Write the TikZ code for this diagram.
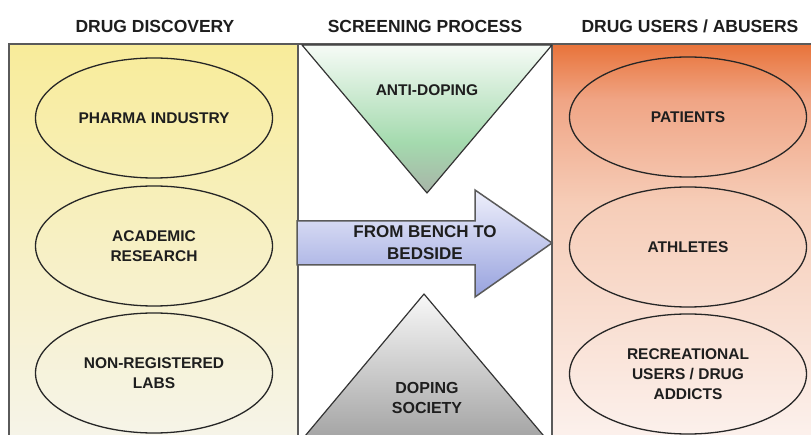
\documentclass[tikz,border=0pt]{standalone}
\usepackage{fontspec}
\setmainfont{Liberation Sans}
\usetikzlibrary{shapes.geometric}
\definecolor{framec}{HTML}{5A5A5A}
\definecolor{txt}{HTML}{1E1E1E}
\definecolor{yelTop}{HTML}{F8EC9A}
\definecolor{yelMid}{HTML}{F7F0C4}
\definecolor{yelBot}{HTML}{F6F4EA}
\definecolor{orTop}{HTML}{E8733A}
\definecolor{orA}{HTML}{F0A585}
\definecolor{orMid}{HTML}{F6CDB8}
\definecolor{orBot}{HTML}{FCF2EE}
\definecolor{grTop}{HTML}{F6FBF6}
\definecolor{grMid}{HTML}{A4DAAE}
\definecolor{grBot}{HTML}{A8B4A8}
\definecolor{gyTop}{HTML}{F8F8F8}
\definecolor{gyBot}{HTML}{A2A2A2}
\definecolor{blTop}{HTML}{EEEFFB}
\definecolor{blBot}{HTML}{97A2DE}
% right panel: bbox 44..445 mapped to 75bp..25bp
\pgfdeclareverticalshading{rightpanel}{100bp}{color(0bp)=(orBot); color(25bp)=(orBot); color(55bp)=(orMid); color(68bp)=(orA); color(75bp)=(orTop); color(100bp)=(orTop)}
\pgfdeclareverticalshading{leftpanel}{100bp}{color(0bp)=(yelBot); color(25bp)=(yelBot); color(50bp)=(yelMid); color(75bp)=(yelTop); color(100bp)=(yelTop)}
\pgfdeclareverticalshading{antidop}{100bp}{color(0bp)=(grBot); color(25bp)=(grBot); color(42bp)=(grMid); color(75bp)=(grTop); color(100bp)=(grTop)}
\tikzset{
  panel/.style={draw=framec, line width=1.5pt},
  heading/.style={font=\fontsize{17.5}{20}\selectfont\bfseries, text=txt},
  label/.style={font=\fontsize{15.5}{20}\selectfont\bfseries, text=txt, align=center},
  bigl/.style={font=\fontsize{17}{22}\selectfont\bfseries, text=txt, align=center},
  oval/.style={ellipse, draw=black!85, line width=1.3pt, minimum width=237pt, minimum height=120pt, inner sep=0pt, label},
  tri/.style={draw=black!80, line width=1.2pt, line join=round},
}
\begin{document}
\begin{tikzpicture}[x=1pt,y=-1pt]
\useasboundingbox (0,0) rectangle (811,435);
\clip (0,0) rectangle (811,435);
\fill[white] (0,0) rectangle (811,435);

% headings
\node[heading] (h1) at (155,26) {DRUG DISCOVERY};
\node[heading] (h2) at (425,26) {SCREENING PROCESS};
\node[heading] (h3) at (690,26) {DRUG USERS / ABUSERS};

% panels
\path[panel, shading=leftpanel] (9,44) rectangle (298,445);
\path[panel, fill=white] (298,44) rectangle (552,445);
\path[panel, shading=rightpanel] (552,44) rectangle (816,445);

% screening triangles
\path[tri, shading=antidop] (302,45) -- (552,45) -- (427,193) -- cycle;
\node[label] (anti) at (427,90) {ANTI-DOPING};
\path[tri, top color=gyTop, bottom color=gyBot] (424,294) -- (543,435) -- (549,442) -- (300,442) -- cycle;
\node[label, font=\fontsize{16}{19.5}\selectfont\bfseries] (dop) at (427,398) {DOPING\\SOCIETY};

% arrow
\path[draw=framec, line width=1.5pt, line join=miter, top color=blTop, bottom color=blBot]
  (297,221) -- (475,221) -- (475,190) -- (552,243) -- (475,297) -- (475,265) -- (297,265) -- cycle;
\node[bigl] (arrowtxt) at (425,243) {FROM BENCH TO\\BEDSIDE};

% left ellipses
\node[oval] (pharma) at (154,118) {PHARMA INDUSTRY};
\node[oval] (acad) at (154,246) {ACADEMIC\\RESEARCH};
\node[oval] (labs) at (154,373) {NON-REGISTERED\\LABS};

% right ellipses
\node[oval] (pat) at (688,117) {PATIENTS};
\node[oval] (ath) at (688,247) {ATHLETES};
\node[oval] (rec) at (688,374) {RECREATIONAL\\USERS / DRUG\\ADDICTS};
\end{tikzpicture}
\end{document}
